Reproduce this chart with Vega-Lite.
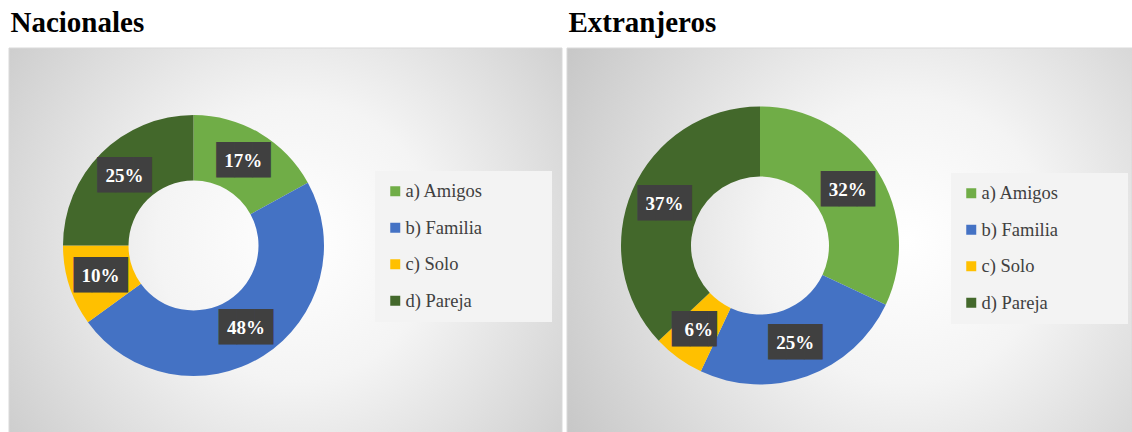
{
  "$schema": "https://vega.github.io/schema/vega-lite/v6.json",
  "background": "white",
  "padding": {"left": 8, "top": 8, "right": 0, "bottom": 0},
  "spacing": 3,
  "resolve": {"scale": {"color": "independent", "theta": "independent"}, "legend": {"color": "independent"}},
  "config": {
    "view": {"stroke": null},
    "title": {"anchor": "start", "font": "Liberation Serif", "fontSize": 29, "fontWeight": "bold", "color": "#000000", "baseline": "alphabetic", "offset": 10, "dx": 2},
    "legend": {
      "orient": "none", "fillColor": "#f3f3f3", "padding": 11,
      "symbolType": "square", "symbolSize": 100, "symbolStrokeWidth": 0, "symbolOpacity": 1,
      "labelFont": "Liberation Serif", "labelFontSize": 18.5, "labelColor": "#404040", "labelOffset": 1,
      "rowPadding": 17.5,
      "titleOrient": "right", "titleFontSize": 1, "titleColor": "#f3f3f3", "titlePadding": 58
    }
  },
  "hconcat": [
    {
      "width": 553, "height": 385,
      "title": {"text": "Nacionales"},
      "data": {"values": [
        {"cat": "a) Amigos", "pct": 0.17},
        {"cat": "b) Familia", "pct": 0.48},
        {"cat": "c) Solo", "pct": 0.10},
        {"cat": "d) Pareja", "pct": 0.25}
      ]},
      "layer": [
        {
          "data": {"values": [{"bg": 1}]},
          "mark": {"type": "rect", "fill": {"gradient": "radial", "x1": 0.52, "y1": 0.5, "r1": 0, "x2": 0.52, "y2": 0.5, "r2": 0.72, "stops": [{"offset": 0, "color": "#ffffff"}, {"offset": 0.35, "color": "#f4f4f4"}, {"offset": 1, "color": "#c4c4c4"}]}, "stroke": "#d9d9d9", "strokeWidth": 1},
          "encoding": {}
        },
        {
          "mark": {"type": "arc", "innerRadius": 65, "outerRadius": 130.5, "x": 184.5, "y": 197.5},
          "encoding": {
            "theta": {"field": "pct", "type": "quantitative", "stack": true},
            "order": {"field": "cat", "type": "ordinal"},
            "color": {"field": "cat", "type": "nominal", "scale": {"domain": ["a) Amigos", "b) Familia", "c) Solo", "d) Pareja"], "range": ["#70AD47", "#4472C4", "#FFC000", "#43682B"]}, "legend": {"legendX": 366, "legendY": 123, "title": "\u2003", "labelFont": "Liberation Serif"}}
          }
        },
        {
          "transform": [{"calculate": "datum.pct < 0.1 ? '██▌' : '███'", "as": "box"}],
          "mark": {"type": "text", "radius": 97.75, "x": 184.5, "y": 197.5, "font": "DejaVu Sans Mono", "fontSize": 30, "color": "#404040", "baseline": "middle", "align": "center"},
          "encoding": {
            "theta": {"field": "pct", "type": "quantitative", "stack": true},
            "order": {"field": "cat", "type": "ordinal"},
            "detail": {"field": "cat", "type": "nominal"},
            "text": {"field": "box", "type": "nominal"}
          }
        },
        {
          "mark": {"type": "text", "radius": 97.75, "x": 184.5, "y": 197.5, "font": "Liberation Serif", "fontWeight": "bold", "fontSize": 19, "color": "#ffffff", "baseline": "middle", "align": "center"},
          "encoding": {
            "theta": {"field": "pct", "type": "quantitative", "stack": true},
            "order": {"field": "cat", "type": "ordinal"},
            "detail": {"field": "cat", "type": "nominal"},
            "text": {"field": "pct", "type": "quantitative", "format": ".0%"}
          }
        }
      ]
    },
    {
      "width": 565, "height": 385,
      "title": {"text": "Extranjeros"},
      "data": {"values": [
        {"cat": "a) Amigos", "pct": 0.32},
        {"cat": "b) Familia", "pct": 0.25},
        {"cat": "c) Solo", "pct": 0.06},
        {"cat": "d) Pareja", "pct": 0.37}
      ]},
      "layer": [
        {
          "data": {"values": [{"bg": 1}]},
          "mark": {"type": "rect", "fill": {"gradient": "radial", "x1": 0.6, "y1": 0.5, "r1": 0, "x2": 0.6, "y2": 0.5, "r2": 0.72, "stops": [{"offset": 0, "color": "#ffffff"}, {"offset": 0.35, "color": "#f4f4f4"}, {"offset": 1, "color": "#c4c4c4"}]}, "stroke": "#d9d9d9", "strokeWidth": 1},
          "encoding": {}
        },
        {
          "mark": {"type": "arc", "innerRadius": 69, "outerRadius": 139, "x": 193, "y": 197.5},
          "encoding": {
            "theta": {"field": "pct", "type": "quantitative", "stack": true},
            "order": {"field": "cat", "type": "ordinal"},
            "color": {"field": "cat", "type": "nominal", "scale": {"domain": ["a) Amigos", "b) Familia", "c) Solo", "d) Pareja"], "range": ["#70AD47", "#4472C4", "#FFC000", "#43682B"]}, "legend": {"legendX": 384, "legendY": 125, "title": "\u2003", "labelFont": "Liberation Serif"}}
          }
        },
        {
          "transform": [{"calculate": "datum.pct < 0.1 ? '██▌' : '███'", "as": "box"}],
          "mark": {"type": "text", "radius": 104, "x": 193, "y": 197.5, "font": "DejaVu Sans Mono", "fontSize": 30, "color": "#404040", "baseline": "middle", "align": "center"},
          "encoding": {
            "theta": {"field": "pct", "type": "quantitative", "stack": true},
            "order": {"field": "cat", "type": "ordinal"},
            "detail": {"field": "cat", "type": "nominal"},
            "text": {"field": "box", "type": "nominal"}
          }
        },
        {
          "mark": {"type": "text", "radius": 104, "x": 193, "y": 197.5, "font": "Liberation Serif", "fontWeight": "bold", "fontSize": 19, "color": "#ffffff", "baseline": "middle", "align": "center"},
          "encoding": {
            "theta": {"field": "pct", "type": "quantitative", "stack": true},
            "order": {"field": "cat", "type": "ordinal"},
            "detail": {"field": "cat", "type": "nominal"},
            "text": {"field": "pct", "type": "quantitative", "format": ".0%"}
          }
        }
      ]
    }
  ]
}
